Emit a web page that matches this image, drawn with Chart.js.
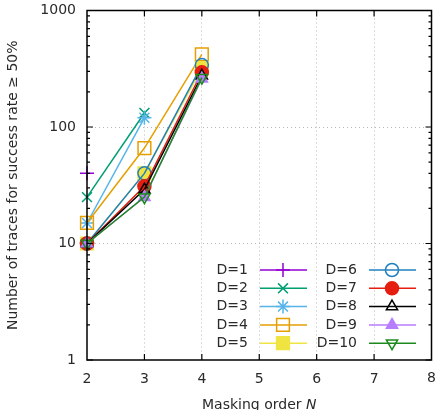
<!DOCTYPE html>
<html>
<head>
<meta charset="utf-8">
<script src="https://cdn.jsdelivr.net/npm/chart.js@4/dist/chart.umd.min.js"></script>
<style>
  html, body { margin: 0; padding: 0; background: #fff; }
</style>
</head>
<body>
<canvas id="chart" width="442" height="410"></canvas>
<script>
// Données
const maskingOrders = [2, 3, 4];
const d1 = [40, null, null];
const d2 = [25, 132, null];
const d3 = [15, 120, null];
const d4 = [15, 66, 420];
const d5 = [10, 40, 320];
const d6 = [10, 40, 340];
const d7 = [10, 31, 295];
const d8 = [10, 29, 275];
const d9 = [10, 25, 260];
const d10 = [10, 25, 265];
const seriesLabels = ["D=1", "D=2", "D=3", "D=4", "D=5", "D=6", "D=7", "D=8", "D=9", "D=10"];
const xTicks = [2, 3, 4, 5, 6, 7, 8];
const yTicks = [1, 10, 100, 1000];

const allSeries = [d1, d2, d3, d4, d5, d6, d7, d8, d9, d10];

// Styles façon gnuplot
const styles = [
  { color: "#9400d3", style: "cross", fill: false, r: 7 },
  { color: "#009e73", style: "crossRot", fill: false, r: 7 },
  { color: "#56b4e9", style: "star", fill: false, r: 7 },
  { color: "#e69f00", style: "rect", fill: false, r: 9 },
  { color: "#f0e442", style: "rect", fill: true, r: 9 },
  { color: "#1f80c0", style: "circle", fill: false, r: 6.5 },
  { color: "#e51e10", style: "circle", fill: true, r: 6.5 },
  { color: "#000000", style: "triangle", fill: false, r: 6.5 },
  { color: "#b77dff", style: "triangle", fill: true, r: 6.5 },
  { color: "#1e8a1e", style: "triangle", fill: false, r: 6.5, rot: 180 },
];

const FONT = "'DejaVu Sans', sans-serif";
const TEXT = "#2a2a2a";

const datasets = allSeries.map((serie, i) => ({
  label: seriesLabels[i],
  data: maskingOrders.map((n, k) => ({ x: n, y: serie[k] })),
  borderColor: styles[i].color,
  backgroundColor: styles[i].color,
  borderWidth: 1.5,
  pointStyle: styles[i].style,
  pointRadius: styles[i].r,
  pointRotation: styles[i].rot || 0,
  pointBorderWidth: 1.5,
  pointBorderColor: styles[i].color,
  pointBackgroundColor: styles[i].fill ? styles[i].color : "rgba(0,0,0,0)",
  spanGaps: false,
  clip: false,
  order: 10 - i,
}));

// Cadre, graduations, légende et titre X dessinés à la main
const framePlugin = {
  id: "frame",
  afterDraw(chart) {
    const { ctx, chartArea: a, scales } = chart;
    const x = scales.x, y = scales.y;
    ctx.save();
    ctx.strokeStyle = "#000";
    ctx.lineWidth = 1.5;
    ctx.strokeRect(a.left, a.top, a.right - a.left, a.bottom - a.top);

    ctx.lineWidth = 1.2;
    ctx.beginPath();
    xTicks.forEach((v) => {
      if (v === xTicks[0] || v === xTicks[xTicks.length - 1]) return;
      const px = x.getPixelForValue(v);
      ctx.moveTo(px, a.bottom); ctx.lineTo(px, a.bottom - 6);
      ctx.moveTo(px, a.top); ctx.lineTo(px, a.top + 6);
    });
    [1, 10, 100].forEach((d) => {
      for (let m = 1; m <= 9; m++) {
        const py = y.getPixelForValue(d * m);
        const len = m === 1 ? 6 : 3;
        ctx.moveTo(a.left, py); ctx.lineTo(a.left + len, py);
        ctx.moveTo(a.right, py); ctx.lineTo(a.right - len, py);
      }
    });
    ctx.stroke();

    // dernier label X (coupé au bord, comme l'original)
    const lastX = xTicks[xTicks.length - 1];
    ctx.font = "14px " + FONT;
    ctx.fillStyle = TEXT;
    ctx.textAlign = "center";
    ctx.textBaseline = "top";
    ctx.fillText(String(lastX), x.getPixelForValue(lastX), a.bottom + 11);

    // Légende sur deux colonnes
    ctx.textBaseline = "middle";
    chart.data.datasets.forEach((ds, i) => {
      const col = i < 5 ? 0 : 1;
      const row = i % 5;
      const tx = col === 0 ? 248 : 357;
      const ty = 270 + row * 18.3;
      ctx.textAlign = "right";
      ctx.fillStyle = TEXT;
      ctx.fillText(ds.label, tx, ty);
      ctx.strokeStyle = ds.borderColor;
      ctx.lineWidth = 1.5;
      ctx.beginPath();
      ctx.moveTo(tx + 12, ty);
      ctx.lineTo(tx + 59, ty);
      ctx.stroke();
      ctx.fillStyle = ds.pointBackgroundColor;
      ctx.strokeStyle = ds.pointBorderColor;
      Chart.helpers.drawPoint(ctx, {
        pointStyle: ds.pointStyle,
        rotation: ds.pointRotation,
        radius: ds.pointRadius,
        borderWidth: 1.5,
      }, tx + 35, ty);
    });

    // Titre X avec N en italique
    const part1 = "Masking order ";
    const part2 = "N";
    ctx.font = "14px " + FONT;
    const w1 = ctx.measureText(part1).width;
    ctx.font = "italic 14px " + FONT;
    const w2 = ctx.measureText(part2).width;
    const cx = (a.left + a.right) / 2;
    const startX = cx - (w1 + w2) / 2;
    ctx.textAlign = "left";
    ctx.fillStyle = TEXT;
    ctx.font = "14px " + FONT;
    ctx.fillText(part1, startX, 405);
    ctx.font = "italic 14px " + FONT;
    ctx.fillText(part2, startX + w1, 405);
    ctx.restore();
  },
};

new Chart(document.getElementById("chart"), {
  type: "line",
  data: { datasets: datasets },
  options: {
    responsive: false,
    animation: false,
    layout: { padding: { top: 10, right: 6, left: 0, bottom: 0 } },
    plugins: {
      legend: { display: false },
      tooltip: { enabled: false },
    },
    scales: {
      x: {
        type: "linear",
        min: 2,
        max: 8,
        afterBuildTicks: (scale) => {
          scale.ticks = xTicks.slice(0, -1).map((v) => ({ value: v }));
        },
        afterFit: (scale) => {
          scale.height = 50;
          scale.paddingLeft = 0;
          scale.paddingRight = 0;
        },
        ticks: {
          font: { family: FONT, size: 14 },
          color: TEXT,
          padding: 11,
          maxRotation: 0,
        },
        grid: {
          drawTicks: false,
          lineWidth: 1,
          color: (c) => (c.tick && c.tick.value > 2 && c.tick.value < 8 ? "#b8b8b8" : "rgba(0,0,0,0)"),
        },
        border: { display: false, dash: [1, 3] },
      },
      y: {
        type: "logarithmic",
        min: 1,
        max: 1000,
        afterBuildTicks: (scale) => {
          scale.ticks = yTicks.map((v) => ({ value: v }));
        },
        afterFit: (scale) => {
          scale.width = 87;
          scale.paddingTop = 0;
          scale.paddingBottom = 0;
        },
        ticks: {
          font: { family: FONT, size: 14 },
          color: TEXT,
          padding: 11,
          callback: (v) => String(v),
        },
        grid: {
          drawTicks: false,
          lineWidth: 1,
          color: (c) => (c.tick && (c.tick.value === 10 || c.tick.value === 100) ? "#b8b8b8" : "rgba(0,0,0,0)"),
        },
        border: { display: false, dash: [1, 3] },
        title: {
          display: true,
          text: "Number of traces for success rate ≥ 50%",
          font: { family: FONT, size: 14 },
          color: TEXT,
          padding: { top: 5, bottom: 2 },
        },
      },
    },
  },
  plugins: [framePlugin],
});
</script>
</body>
</html>
